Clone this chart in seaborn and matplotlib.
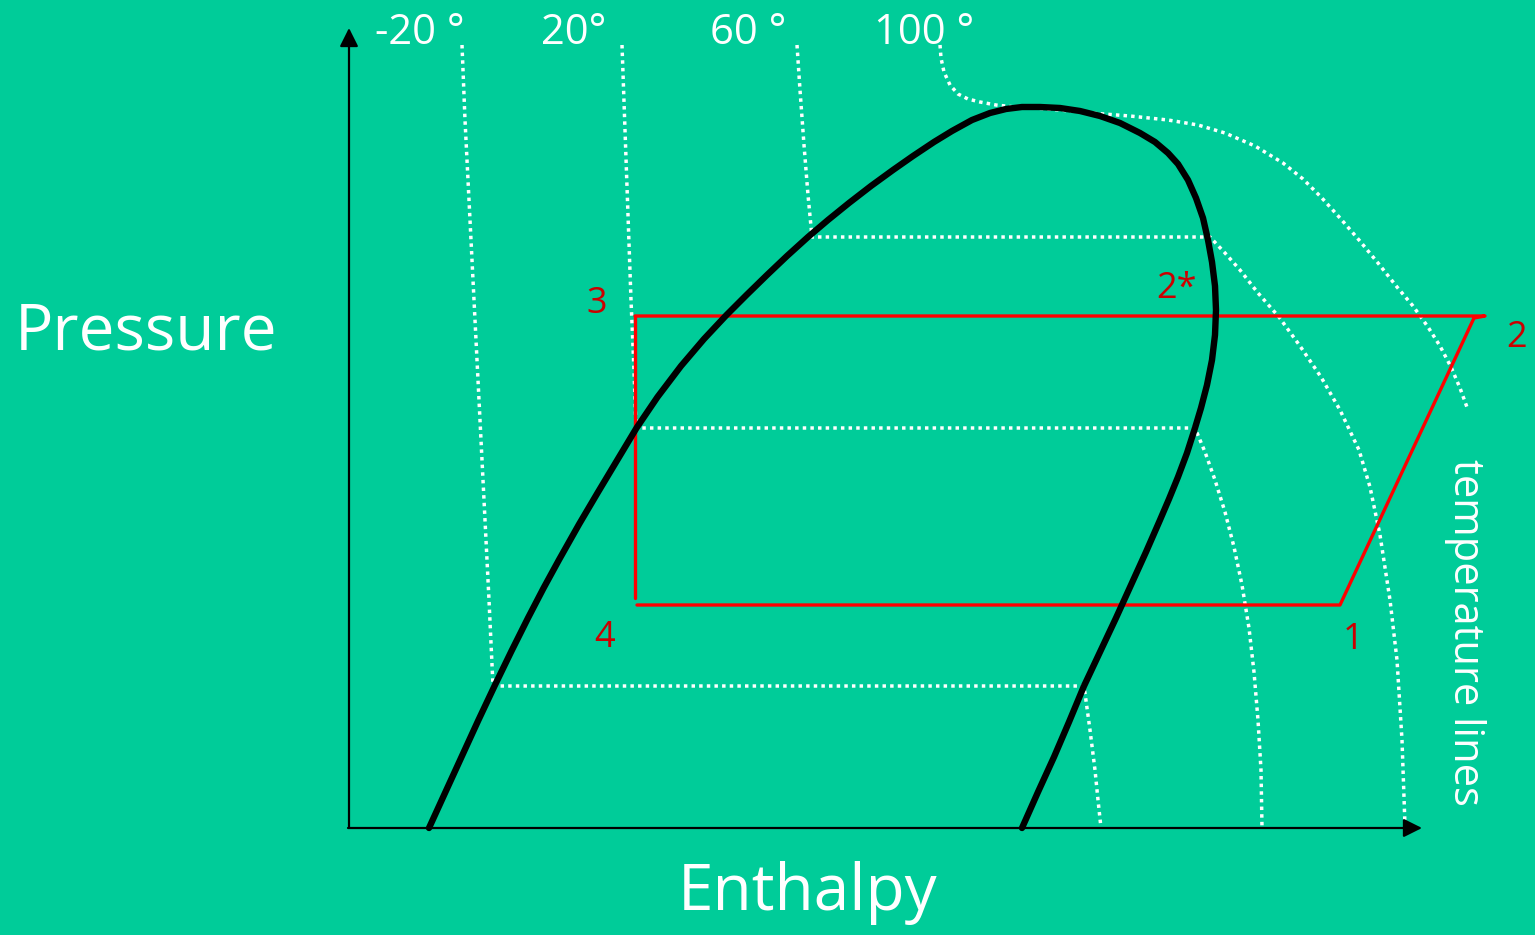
import matplotlib
matplotlib.use("Agg")
import matplotlib.pyplot as plt
import seaborn as sns
import pandas as pd

# ---------------- data (diagram coordinates: enthalpy -> x, pressure -> y, y downward) ----
dome_h = [429, 445, 461.5, 478, 495, 511.5, 528, 543.6, 558.9, 579.2, 597.5, 617.3,
          636.5, 657.5, 681, 704, 726.5, 746.5, 767, 787, 808, 828, 849, 871, 893,
          913, 934, 952, 972, 990, 1006, 1022, 1040, 1060, 1080, 1100, 1120, 1140,
          1155, 1168, 1178, 1188, 1196, 1203, 1208, 1212, 1215, 1216, 1215, 1212,
          1207, 1201, 1195, 1187, 1178, 1169, 1160, 1146, 1131, 1116, 1100, 1084,
          1069, 1054, 1038, 1022]
dome_p = [828, 793, 757, 721, 685, 651, 618, 588, 560, 524, 493, 460,
          428, 397, 366, 339, 315, 295, 275, 256, 237, 220, 203, 186, 170,
          156, 142, 131, 120, 113, 109, 107, 107, 108, 111, 116, 123, 133,
          142, 153, 164, 180, 198, 218, 240, 262, 286, 310, 335, 360,
          385, 408, 428, 453, 477, 499, 520, 552, 585, 618, 652, 686,
          722, 757, 792, 828]

iso_m20_h = [462, 465, 469, 473, 477, 481, 485, 489, 493, 1084, 1090, 1095, 1098, 1101]
iso_m20_p = [45, 120, 200, 280, 360, 440, 520, 600, 686, 686, 730, 770, 800, 828]

iso_20_h = [622, 625, 628, 631, 634, 636, 1195, 1205, 1215, 1225, 1234, 1242, 1249,
            1254, 1258, 1261, 1262]
iso_20_p = [45, 130, 215, 300, 370, 428, 428, 452, 480, 512, 547, 585, 628,
            672, 720, 770, 828]

iso_60_h = [797, 800, 804, 808, 812, 1210, 1225, 1240, 1258, 1279, 1300, 1321, 1340,
            1359, 1370, 1380, 1390, 1397, 1402, 1405]
iso_60_p = [45, 90, 145, 195, 237, 237, 253, 270, 293, 317, 346, 377, 410,
            450, 487, 535, 600, 660, 740, 826]

iso_100_h = [940, 941, 944, 950, 958, 968, 980, 996, 1015, 1034, 1060, 1091, 1130,
             1168, 1198, 1225, 1255, 1283, 1303, 1321, 1340, 1359, 1378, 1397,
             1413, 1428, 1440, 1451, 1460, 1468]
iso_100_p = [45, 58, 72, 85, 94, 99, 102, 105, 107, 108, 110, 113, 116,
             120, 125, 133, 146, 163, 179, 197, 218, 240, 263, 287,
             306, 327, 346, 367, 388, 410]

cycle_h = [635, 1485, 1474, 1340, 637]
cycle_p = [316, 316, 318, 605, 605]
cycle_v_h = [635, 635]
cycle_v_p = [316, 598]

iso_labels = ["-20 °", "20°", "60 °", "100 °"]
iso_label_h = [420, 574, 748, 924]

state_labels = ["3", "2*", "2", "1", "4"]
state_h = [597, 1176, 1517, 1353, 605]
state_p = [304, 289, 338, 640, 638]

BG = "#00CC99"
WHITE = "#FFFFFF"
RED = "#FF0000"
LABEL_RED = "#CC0000"

sns.set_theme(style="white")
plt.rcParams["font.family"] = ["Open Sans", "DejaVu Sans"]

fig = plt.figure(figsize=(15.35, 9.35), dpi=100, facecolor=BG)
ax = fig.add_axes([0, 0, 1, 1])
ax.set_facecolor(BG)
ax.set_xlim(0, 1535)
ax.set_ylim(935, 0)
ax.axis("off")


def line(h, p, **kw):
    df = pd.DataFrame({"h": h, "p": p})
    sns.lineplot(data=df, x="h", y="p", sort=False, estimator=None, ax=ax,
                 legend=False, **kw)
    ln = ax.lines[-1]
    ln.set_solid_joinstyle("round")
    ln.set_dash_capstyle("butt")
    return ln


# axes with arrows
ax.annotate("", xy=(349, 28), xytext=(349, 828),
            arrowprops=dict(arrowstyle="-|>", lw=1.6, color="black",
                            mutation_scale=28, shrinkA=0, shrinkB=0))
ax.annotate("", xy=(1422, 828), xytext=(348, 828),
            arrowprops=dict(arrowstyle="-|>", lw=1.6, color="black",
                            mutation_scale=28, shrinkA=0, shrinkB=0))

# temperature lines (dotted)
for h, p in [(iso_m20_h, iso_m20_p), (iso_20_h, iso_20_p),
             (iso_60_h, iso_60_p), (iso_100_h, iso_100_p)]:
    line(h, p, color=WHITE, lw=2.5, linestyle=(0, (1, 1.2)))

# cycle
line(cycle_h, cycle_p, color=RED, lw=2.4)
line(cycle_v_h, cycle_v_p, color=RED, lw=2.4)

# saturation dome
line(dome_h, dome_p, color="black", lw=4.6)

# labels
for t, x in zip(iso_labels, iso_label_h):
    ax.text(x, 33, t, color=WHITE, fontsize=30, ha="center", va="center")

for t, x, y in zip(state_labels, state_h, state_p):
    ax.text(x, y, t, color=LABEL_RED, fontsize=26, ha="center", va="center")

ax.text(146, 333, "Pressure", color=WHITE, fontsize=46, ha="center", va="center")
ax.text(808, 893, "Enthalpy", color=WHITE, fontsize=46, ha="center", va="center")
ax.text(1465, 632, "temperature lines", color=WHITE, fontsize=30, rotation=-90,
        ha="center", va="center")

fig.savefig("out.png", dpi=100, facecolor=BG)
